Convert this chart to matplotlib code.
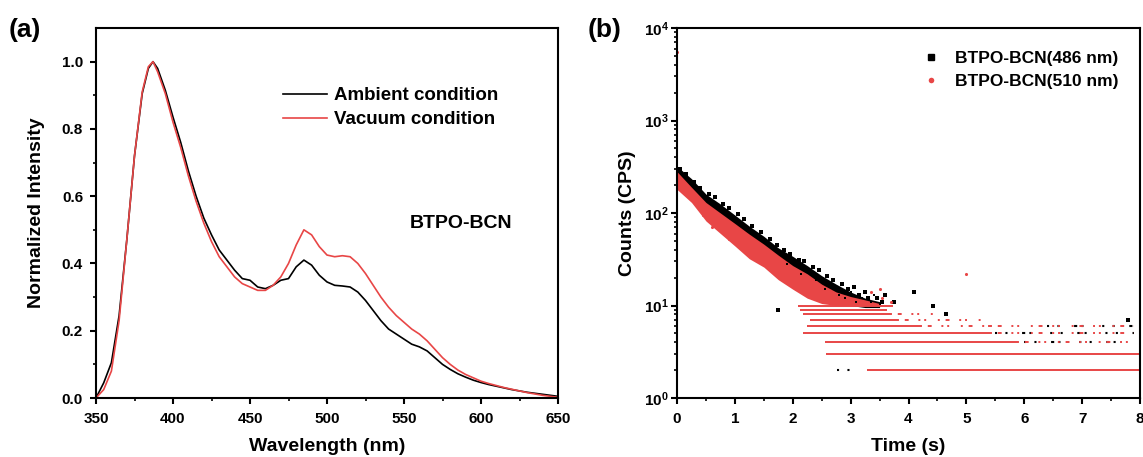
import matplotlib
matplotlib.use("Agg")
import matplotlib.pyplot as plt
from matplotlib.lines import Line2D
from matplotlib.ticker import MultipleLocator, LogLocator, NullFormatter, FixedLocator, FormatStrFormatter

plt.rcParams['font.family'] = ['Liberation Sans', 'DejaVu Sans']
plt.rcParams['font.weight'] = 'bold'
plt.rcParams['axes.labelweight'] = 'bold'
plt.rcParams['mathtext.fontset'] = 'custom'
plt.rcParams['mathtext.rm'] = 'Liberation Sans:bold'
plt.rcParams['mathtext.it'] = 'Liberation Sans:bold'
plt.rcParams['mathtext.bf'] = 'Liberation Sans:bold'
plt.rcParams['mathtext.default'] = 'rm'

RED = '#E84646'

# ---------------- panel (a) data ----------------
wavelength = [350, 355, 360, 365, 370, 375, 380, 384, 387, 390, 395, 400, 405, 410, 415,
              420, 425, 430, 435, 440, 445, 450, 455, 460, 465, 470, 475, 480, 485, 490,
              495, 500, 505, 510, 515, 520, 525, 530, 535, 540, 545, 550, 555, 560, 565,
              570, 575, 580, 585, 590, 595, 600, 605, 610, 615, 620, 625, 630, 635, 640,
              645, 650]
ambient = [0.00, 0.045, 0.105, 0.245, 0.47, 0.72, 0.905, 0.98, 1.00, 0.98, 0.915, 0.835, 0.76,
           0.675, 0.60, 0.535, 0.485, 0.44, 0.41, 0.38, 0.355, 0.35, 0.33, 0.325, 0.335, 0.35,
           0.355, 0.39, 0.41, 0.395, 0.365, 0.345, 0.335, 0.333, 0.33, 0.315, 0.29, 0.26, 0.23,
           0.205, 0.19, 0.175, 0.16, 0.152, 0.14, 0.12, 0.10, 0.085, 0.072, 0.062, 0.053, 0.046,
           0.040, 0.035, 0.030, 0.025, 0.021, 0.017, 0.014, 0.011, 0.008, 0.005]
vacuum = [0.00, 0.025, 0.08, 0.23, 0.47, 0.72, 0.91, 0.985, 1.00, 0.97, 0.905, 0.82, 0.745,
          0.66, 0.585, 0.52, 0.465, 0.42, 0.39, 0.36, 0.34, 0.33, 0.32, 0.32, 0.335, 0.36,
          0.40, 0.455, 0.50, 0.485, 0.45, 0.425, 0.42, 0.423, 0.42, 0.40, 0.37, 0.335, 0.30,
          0.27, 0.245, 0.225, 0.205, 0.19, 0.17, 0.145, 0.12, 0.10, 0.083, 0.07, 0.06, 0.05,
          0.043, 0.037, 0.031, 0.026, 0.021, 0.016, 0.012, 0.008, 0.005, 0.002]

# ---------------- panel (b) data ----------------
t_env = [0.0, 0.25, 0.5, 0.75, 1.0, 1.25, 1.5, 1.75, 2.0, 2.25, 2.5, 2.75, 3.0, 3.25, 3.5]
black_hi = [320, 235, 160, 125, 95, 72, 56, 42, 34, 27, 21, 17, 14, 12, 11]
black_lo = [220, 160, 115, 88, 67, 52, 40, 30, 24, 19, 15, 12, 10, 9.5, 9.5]
t_env_red = [0.0, 0.25, 0.5, 0.75, 1.0, 1.25, 1.5, 1.75, 2.0, 2.25, 2.5, 2.75, 3.0, 3.25, 3.5]
red_hi = [280, 190, 130, 100, 77, 59, 46, 35, 27, 22, 17, 14, 12.5, 11.5, 10.5]
red_lo = [180, 130, 82, 60, 44, 32, 26, 19, 15, 12, 10.5, 10, 10, 10, 10]

# quantised count rows (level, start time, end time)
row_level = [10, 9, 8, 7, 6, 5, 4, 3, 2, 1]
red_row_start = [2.09, 2.12, 2.18, 2.30, 2.24, 2.18, 2.55, 2.58, 3.28, 3.17]
red_row_end = [3.73, 3.62, 3.68, 3.80, 4.20, 5.40, 5.87, 8.00, 8.00, 8.00]
sparse_level = [8, 7, 6, 6, 5, 4]
sparse_start = [3.68, 3.80, 4.20, 5.40, 5.40, 5.87]
sparse_end = [4.43, 5.30, 5.40, 7.90, 7.90, 7.90]
black_row_level = [2, 4, 5, 6]
black_row_start = [2.76, 6.00, 5.50, 6.40]
black_row_end = [3.17, 7.90, 7.90, 7.90]

black_pts_t = [0.05, 0.15, 0.30, 0.40, 0.55, 0.65, 0.80, 0.90, 1.05, 1.15, 1.30, 1.45, 1.60,
               1.72, 1.85, 1.95, 2.10, 2.20, 2.35, 2.45, 2.60, 2.70, 2.85, 2.95, 3.05, 3.15,
               3.30, 3.45, 3.55, 3.25, 3.60, 4.10, 4.42, 4.65, 7.80, 1.75, 3.75]
black_pts_c = [300, 262, 215, 186, 160, 150, 125, 112, 98, 86, 72, 62, 52, 45, 40, 36, 31,
               30, 26, 24, 21, 19, 17, 15, 16, 13, 12, 12, 11, 14, 13, 14, 10, 8, 7, 9, 11]
black_mix_t = [1.9, 2.15, 2.4, 2.55, 2.65, 2.8, 2.9, 3.0, 3.1, 3.2, 3.35, 3.4, 3.5]
black_mix_c = [28, 22, 19, 15, 17, 13, 12, 14, 11, 12, 11, 13, 10.5]
red_pts_t = [0.45, 0.60, 0.90, 1.10, 1.30, 1.45, 1.70, 1.55, 1.95, 2.05, 2.30, 2.50, 5.00,
             0.00, 3.35, 3.55, 3.70, 3.50]
red_pts_c = [95, 70, 52, 45, 34, 30, 22, 28, 18, 15, 13, 12, 22, 5500, 14, 12, 11, 15]

legend_b = ['BTPO-BCN(486 nm)', 'BTPO-BCN(510 nm)']

# ---------------- figure ----------------
W, H = 1143, 457
fig = plt.figure(figsize=(W / 100, H / 100), dpi=100)

def rect(x0, x1, y0, y1):
    return [x0 / W, 1 - y1 / H, (x1 - x0) / W, (y1 - y0) / H]

axa = fig.add_axes(rect(96, 558, 28, 398))
axb = fig.add_axes(rect(677, 1140, 28, 398))

for ax in (axa, axb):
    for s in ax.spines.values():
        s.set_linewidth(1.5)
    ax.tick_params(which='major', direction='out', length=4.3, width=1.5, labelsize=11, pad=5.5)
    ax.tick_params(which='minor', direction='out', length=2.3, width=1.2)
    ax.tick_params(top=False, right=False, which='both')
axa.tick_params(axis='y', which='major', pad=5)
axb.tick_params(axis='y', which='major', pad=1.5)

# panel a
axa.plot(wavelength, ambient, color='black', lw=1.2, label='Ambient condition')
axa.plot(wavelength, vacuum, color=RED, lw=1.2, label='Vacuum condition')
axa.set_xlim(350, 650)
axa.set_ylim(0, 1.1)
axa.xaxis.set_major_locator(MultipleLocator(50))
axa.xaxis.set_minor_locator(MultipleLocator(25))
axa.yaxis.set_major_locator(FixedLocator([0.0, 0.2, 0.4, 0.6, 0.8, 1.0]))
axa.yaxis.set_minor_locator(FixedLocator([0.1, 0.3, 0.5, 0.7, 0.9]))
axa.yaxis.set_major_formatter(FormatStrFormatter('%.1f'))
axa.set_xlabel('Wavelength (nm)', fontsize=14, labelpad=9)
axa.set_ylabel('Normalized Intensity', fontsize=14, labelpad=12)
axa.text(587, 0.52, 'BTPO-BCN', fontsize=14, fontweight='bold', ha='center', va='center')
axa.legend(loc='upper left', bbox_to_anchor=((283 - 96) / 462, (398 - 87) / 370),
           frameon=False, fontsize=13.5, handlelength=2.35, handletextpad=0.35,
           labelspacing=0.38, borderpad=0, borderaxespad=0)
fig.text(25 / W, 1 - 30 / H, '(a)', fontsize=19, fontweight='bold', ha='center', va='center')

# panel b
axb.set_yscale('log')
axb.fill_between(t_env, black_lo, black_hi, color='black', lw=0)
axb.hlines(black_row_level, black_row_start, black_row_end, color='black', lw=1.5,
           linestyles=[(0, (1.0, 4.0, 1.0, 7.0, 1.5, 2.0, 1.0, 9.0))])
axb.scatter(black_pts_t, black_pts_c, marker='s', s=5, color='black', lw=0)
axb.fill_between(t_env_red, red_lo, red_hi, color=RED, lw=0)
axb.hlines(row_level, red_row_start, red_row_end, color=RED, lw=1.4)
axb.hlines(sparse_level, sparse_start, sparse_end, color=RED, lw=1.4,
           linestyles=[(0, (1.0, 3.0, 2.0, 5.0, 1.0, 2.0, 1.0, 6.0))])
axb.scatter(red_pts_t, red_pts_c, marker='o', s=5, color=RED, lw=0)
axb.scatter(black_mix_t, black_mix_c, marker='s', s=4, color='black', lw=0, zorder=3)
axb.set_xlim(0, 8)
axb.set_ylim(1, 1e4)
axb.xaxis.set_major_locator(MultipleLocator(1))
axb.xaxis.set_minor_locator(MultipleLocator(0.5))
axb.yaxis.set_major_locator(LogLocator(base=10, numticks=10))
axb.yaxis.set_minor_locator(LogLocator(base=10, subs=[2, 3, 4, 5, 6, 7, 8, 9], numticks=20))
axb.yaxis.set_minor_formatter(NullFormatter())
axb.set_xlabel('Time (s)', fontsize=14, labelpad=9)
axb.set_ylabel('Counts (CPS)', fontsize=14, labelpad=6)
hb = [Line2D([], [], ls='none', marker='s', ms=4, color='black'),
      Line2D([], [], ls='none', marker='o', ms=4, color=RED, mec='none')]
axb.legend(hb, legend_b, loc='upper left', bbox_to_anchor=((922 - 677) / 463, (398 - 51) / 370),
           frameon=False, fontsize=12.5, handlelength=1.0, handletextpad=0.9,
           labelspacing=0.45, borderpad=0, borderaxespad=0)
fig.text(605 / W, 1 - 30 / H, '(b)', fontsize=19, fontweight='bold', ha='center', va='center')

fig.savefig('out.png', dpi=100)
